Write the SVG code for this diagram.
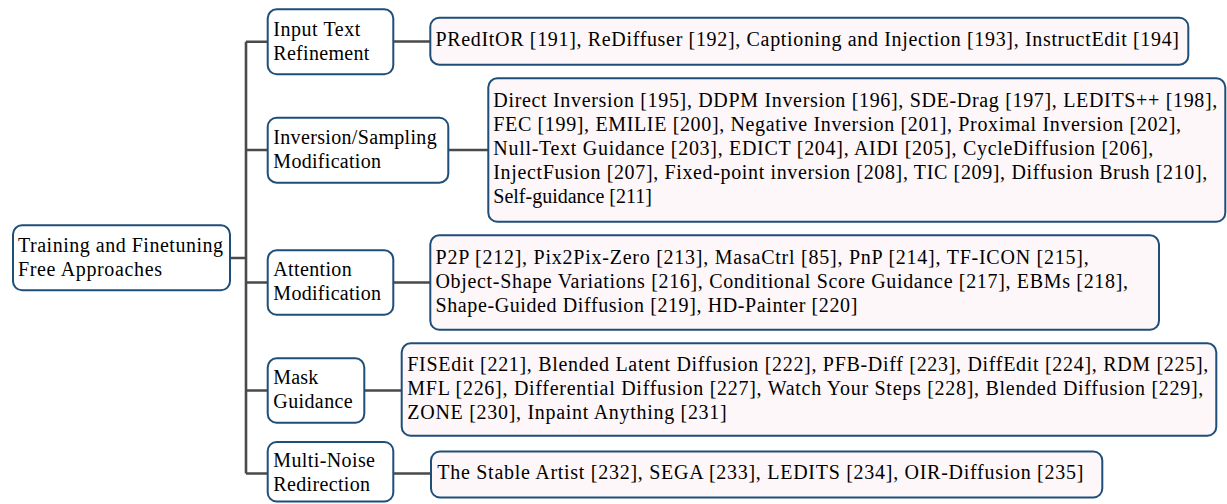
<svg xmlns="http://www.w3.org/2000/svg" width="1227" height="504" viewBox="0 0 1227 504">
<style>
text{font-size:20px;fill:#000}
.l1{fill:#fff;stroke:#1f4e79;stroke-width:2}
.l2{fill:#fdf7f9;stroke:#1f4e79;stroke-width:2}
.c{stroke:#4a4a4a;stroke-width:2.6;fill:none}
</style>
<g font-family="Liberation Serif, Times New Roman, Times, DejaVu Serif, serif">
<g id="connectors">
<path class="c" d="M231,258 H246 M246,41.7 V473.5 M246,41.7 H267 M246,150 H267 M246,282.5 H267 M246,390.5 H267 M246,473.5 H267"/>
<path class="c" d="M394,41.5 H430 M449,150 H488 M394,282.5 H430 M365,390.5 H401 M394,473.5 H431"/>
</g>
<g id="root">
<rect class="l1" x="13" y="225.3" width="217" height="65" rx="9"/>
<text x="18" y="251.5" textLength="205" lengthAdjust="spacing">Training and Finetuning</text>
<text x="18" y="275.5" textLength="144" lengthAdjust="spacing">Free Approaches</text>
</g>
<g id="input-text-refinement">
<rect class="l1" x="267.7" y="9.3" width="125.6" height="65" rx="9"/>
<text x="273.3" y="35.5" textLength="87" lengthAdjust="spacing">Input Text</text>
<text x="273.3" y="59.5" textLength="96" lengthAdjust="spacing">Refinement</text>
</g>
<g id="inversion-sampling">
<rect class="l1" x="267.7" y="117.7" width="180.6" height="65" rx="9"/>
<text x="273.3" y="143.5" textLength="163.4" lengthAdjust="spacing">Inversion/Sampling</text>
<text x="273.3" y="167.5" textLength="107.7" lengthAdjust="spacing">Modification</text>
</g>
<g id="attention">
<rect class="l1" x="267.7" y="250.3" width="125.6" height="64.5" rx="9"/>
<text x="273.3" y="276" textLength="78.4" lengthAdjust="spacing">Attention</text>
<text x="273.3" y="300" textLength="107.7" lengthAdjust="spacing">Modification</text>
</g>
<g id="mask">
<rect class="l1" x="267.7" y="358.3" width="96.6" height="64.5" rx="9"/>
<text x="273.3" y="384" textLength="45" lengthAdjust="spacing">Mask</text>
<text x="273.3" y="408" textLength="79.4" lengthAdjust="spacing">Guidance</text>
</g>
<g id="multi-noise">
<rect class="l1" x="267.7" y="442" width="125.6" height="59.5" rx="9"/>
<text x="273.3" y="466.5" textLength="101.7" lengthAdjust="spacing">Multi-Noise</text>
<text x="273.3" y="490.5" textLength="96.7" lengthAdjust="spacing">Redirection</text>
</g>
<g id="input-refs">
<rect class="l2" x="430.3" y="17.7" width="758" height="47" rx="9"/>
<text x="435.5" y="46" textLength="743.5" lengthAdjust="spacing">PRedItOR [191], ReDiffuser [192], Captioning and Injection [193], InstructEdit [194]</text>
</g>
<g id="inversion-refs">
<rect class="l2" x="488.3" y="78.3" width="737" height="143.5" rx="9"/>
<text x="493.3" y="106.5" textLength="724" lengthAdjust="spacing">Direct Inversion [195], DDPM Inversion [196], SDE-Drag [197], LEDITS++ [198],</text>
<text x="493.3" y="130.5" textLength="687.7" lengthAdjust="spacing">FEC [199], EMILIE [200], Negative Inversion [201], Proximal Inversion [202],</text>
<text x="493.3" y="154.5" textLength="660" lengthAdjust="spacing">Null-Text Guidance [203], EDICT [204], AIDI [205], CycleDiffusion [206],</text>
<text x="493.3" y="178.5" textLength="714" lengthAdjust="spacing">InjectFusion [207], Fixed-point inversion [208], TIC [209], Diffusion Brush [210],</text>
<text x="493.3" y="202.5">Self-guidance [211]</text>
</g>
<g id="attention-refs">
<rect class="l2" x="430.3" y="235.3" width="728.7" height="94.5" rx="9"/>
<text x="435.5" y="263.5" textLength="653.2" lengthAdjust="spacing">P2P [212], Pix2Pix-Zero [213], MasaCtrl [85], PnP [214], TF-ICON [215],</text>
<text x="435.5" y="287.5" textLength="692.5" lengthAdjust="spacing">Object-Shape Variations [216], Conditional Score Guidance [217], EBMs [218],</text>
<text x="435.5" y="311.5" textLength="421.8" lengthAdjust="spacing">Shape-Guided Diffusion [219], HD-Painter [220]</text>
</g>
<g id="mask-refs">
<rect class="l2" x="401.7" y="343.3" width="814.6" height="92.5" rx="9"/>
<text x="407.3" y="371" textLength="801" lengthAdjust="spacing">FISEdit [221], Blended Latent Diffusion [222], PFB-Diff [223], DiffEdit [224], RDM [225],</text>
<text x="407.3" y="395" textLength="796" lengthAdjust="spacing">MFL [226], Differential Diffusion [227], Watch Your Steps [228], Blended Diffusion [229],</text>
<text x="407.3" y="419" textLength="319.4" lengthAdjust="spacing">ZONE [230], Inpaint Anything [231]</text>
</g>
<g id="multi-noise-refs">
<rect class="l2" x="431" y="451.5" width="671.3" height="46" rx="9"/>
<text x="437.3" y="479" textLength="646" lengthAdjust="spacing">The Stable Artist [232], SEGA [233], LEDITS [234], OIR-Diffusion [235]</text>
</g>
</g>
</svg>
